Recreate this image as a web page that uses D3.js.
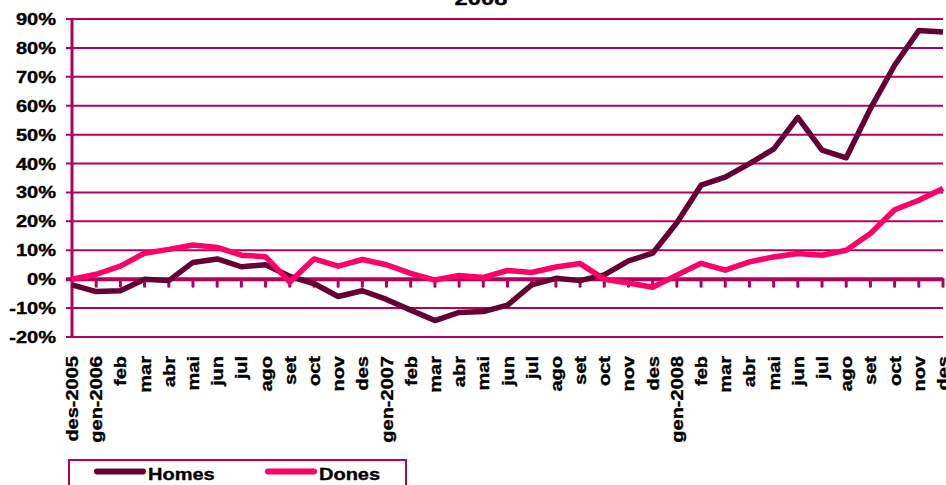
<!DOCTYPE html>
<html>
<head>
<meta charset="utf-8">
<script src="https://cdn.jsdelivr.net/npm/d3@7"></script>
<style>
  body { margin: 0; background: #fff; }
  text { font-family: "Liberation Sans", Arial, sans-serif; font-weight: bold; fill: #000; stroke: #000; stroke-width: 0.35px; }
</style>
</head>
<body>
<div id="chart"></div>
<script>
// dades
const months = ['des-2005', 'gen-2006', 'feb', 'mar', 'abr', 'mai', 'jun', 'jul', 'ago', 'set', 'oct', 'nov', 'des',
  'gen-2007', 'feb', 'mar', 'abr', 'mai', 'jun', 'jul', 'ago', 'set', 'oct', 'nov', 'des',
  'gen-2008', 'feb', 'mar', 'abr', 'mai', 'jun', 'jul', 'ago', 'set', 'oct', 'nov', 'des'];
const homes = [-2, -4.3, -4, 0, -0.5, 5.8, 7, 4.3, 5, 1, -1.5, -6, -4,
  -7, -10.7, -14.3, -11.5, -11.2, -9, -2, 0.3, -0.5, 1.5, 6.3, 9,
  19.5, 32.5, 35.3, 40, 45, 56, 44.6, 42, 59, 74, 86, 85.5];
const dones = [0, 1.7, 4.5, 9, 10.3, 11.8, 11, 8.3, 7.8, -1, 7, 4.5, 6.8,
  5, 2, -0.3, 1.3, 0.6, 3, 2.3, 4.2, 5.4, 0, -1.3, -2.8,
  1.4, 5.5, 3.1, 6, 7.7, 8.9, 8.3, 10, 15.8, 24, 27.3, 31.4];
const yTicks = [-20, -10, 0, 10, 20, 30, 40, 50, 60, 70, 80, 90];
const seriesNames = ['Homes', 'Dones'];
const seriesColors = ['#660033', '#ff0066'];

// svg
const svgWidth = 946;
const svgHeight = 485;
const svg = d3.select('#chart')
  .append('svg')
  .attr('width', svgWidth)
  .attr('height', svgHeight);

const gridColor = '#b3005a';
const stretch = 'scale(1.25,1)';

// escales
const x = d3.scalePoint()
  .domain(d3.range(months.length))
  .range([72, 943]);
const y = d3.scaleLinear()
  .domain([-20, 90])
  .range([337, 19]);

// títol
svg.append('text')
  .attr('transform', `translate(481,4.5) ${stretch}`)
  .attr('text-anchor', 'middle')
  .attr('font-size', '19px')
  .text('2008');

// graella
svg.append('g')
  .selectAll('line')
  .data(yTicks)
  .join('line')
  .attr('x1', 66)
  .attr('x2', 943)
  .attr('y1', d => y(d))
  .attr('y2', d => y(d))
  .attr('stroke', gridColor)
  .attr('stroke-width', d => d === 0 ? 4 : 2);

// eix y
svg.append('line')
  .attr('x1', 72).attr('x2', 72)
  .attr('y1', y(90) - 1).attr('y2', y(-20) + 1)
  .attr('stroke', gridColor)
  .attr('stroke-width', 3);

svg.append('g')
  .selectAll('text')
  .data(yTicks)
  .join('text')
  .attr('transform', d => `translate(56,${y(d) + 6}) ${stretch}`)
  .attr('text-anchor', 'end')
  .attr('font-size', '16px')
  .text(d => d + '%');

// marques eix x
svg.append('g')
  .selectAll('line')
  .data(d3.range(1, months.length))
  .join('line')
  .attr('x1', d => x(d))
  .attr('x2', d => x(d))
  .attr('y1', y(0))
  .attr('y2', y(0) + 7)
  .attr('stroke', gridColor)
  .attr('stroke-width', 3)
  .attr('stroke-linecap', 'round');

// etiquetes x
svg.append('g')
  .selectAll('text')
  .data(months)
  .join('text')
  .attr('transform', (d, i) => `translate(${x(i) + 6},356) rotate(-90) ${stretch}`)
  .attr('text-anchor', 'end')
  .attr('font-size', '16px')
  .text(d => d);

// línies
const line = d3.line()
  .x((d, i) => x(i))
  .y(d => y(d));

[homes, dones].forEach((s, k) => {
  svg.append('path')
    .datum(s)
    .attr('d', line)
    .attr('fill', 'none')
    .attr('stroke', seriesColors[k])
    .attr('stroke-width', 5.5)
    .attr('stroke-linejoin', 'round');
});

// llegenda
svg.append('rect')
  .attr('x', 69)
  .attr('y', 460)
  .attr('width', 337)
  .attr('height', 40)
  .attr('fill', 'none')
  .attr('stroke', gridColor)
  .attr('stroke-width', 2);

const legendX = [95, 266];
seriesNames.forEach((name, k) => {
  svg.append('line')
    .attr('x1', legendX[k] + 2)
    .attr('x2', legendX[k] + 48)
    .attr('y1', 471.5)
    .attr('y2', 471.5)
    .attr('stroke', seriesColors[k])
    .attr('stroke-width', 6)
    .attr('stroke-linecap', 'round');
  svg.append('text')
    .attr('transform', `translate(${legendX[k] + 53},480) ${stretch}`)
    .attr('font-size', '16px')
    .text(name);
});
</script>
</body>
</html>
